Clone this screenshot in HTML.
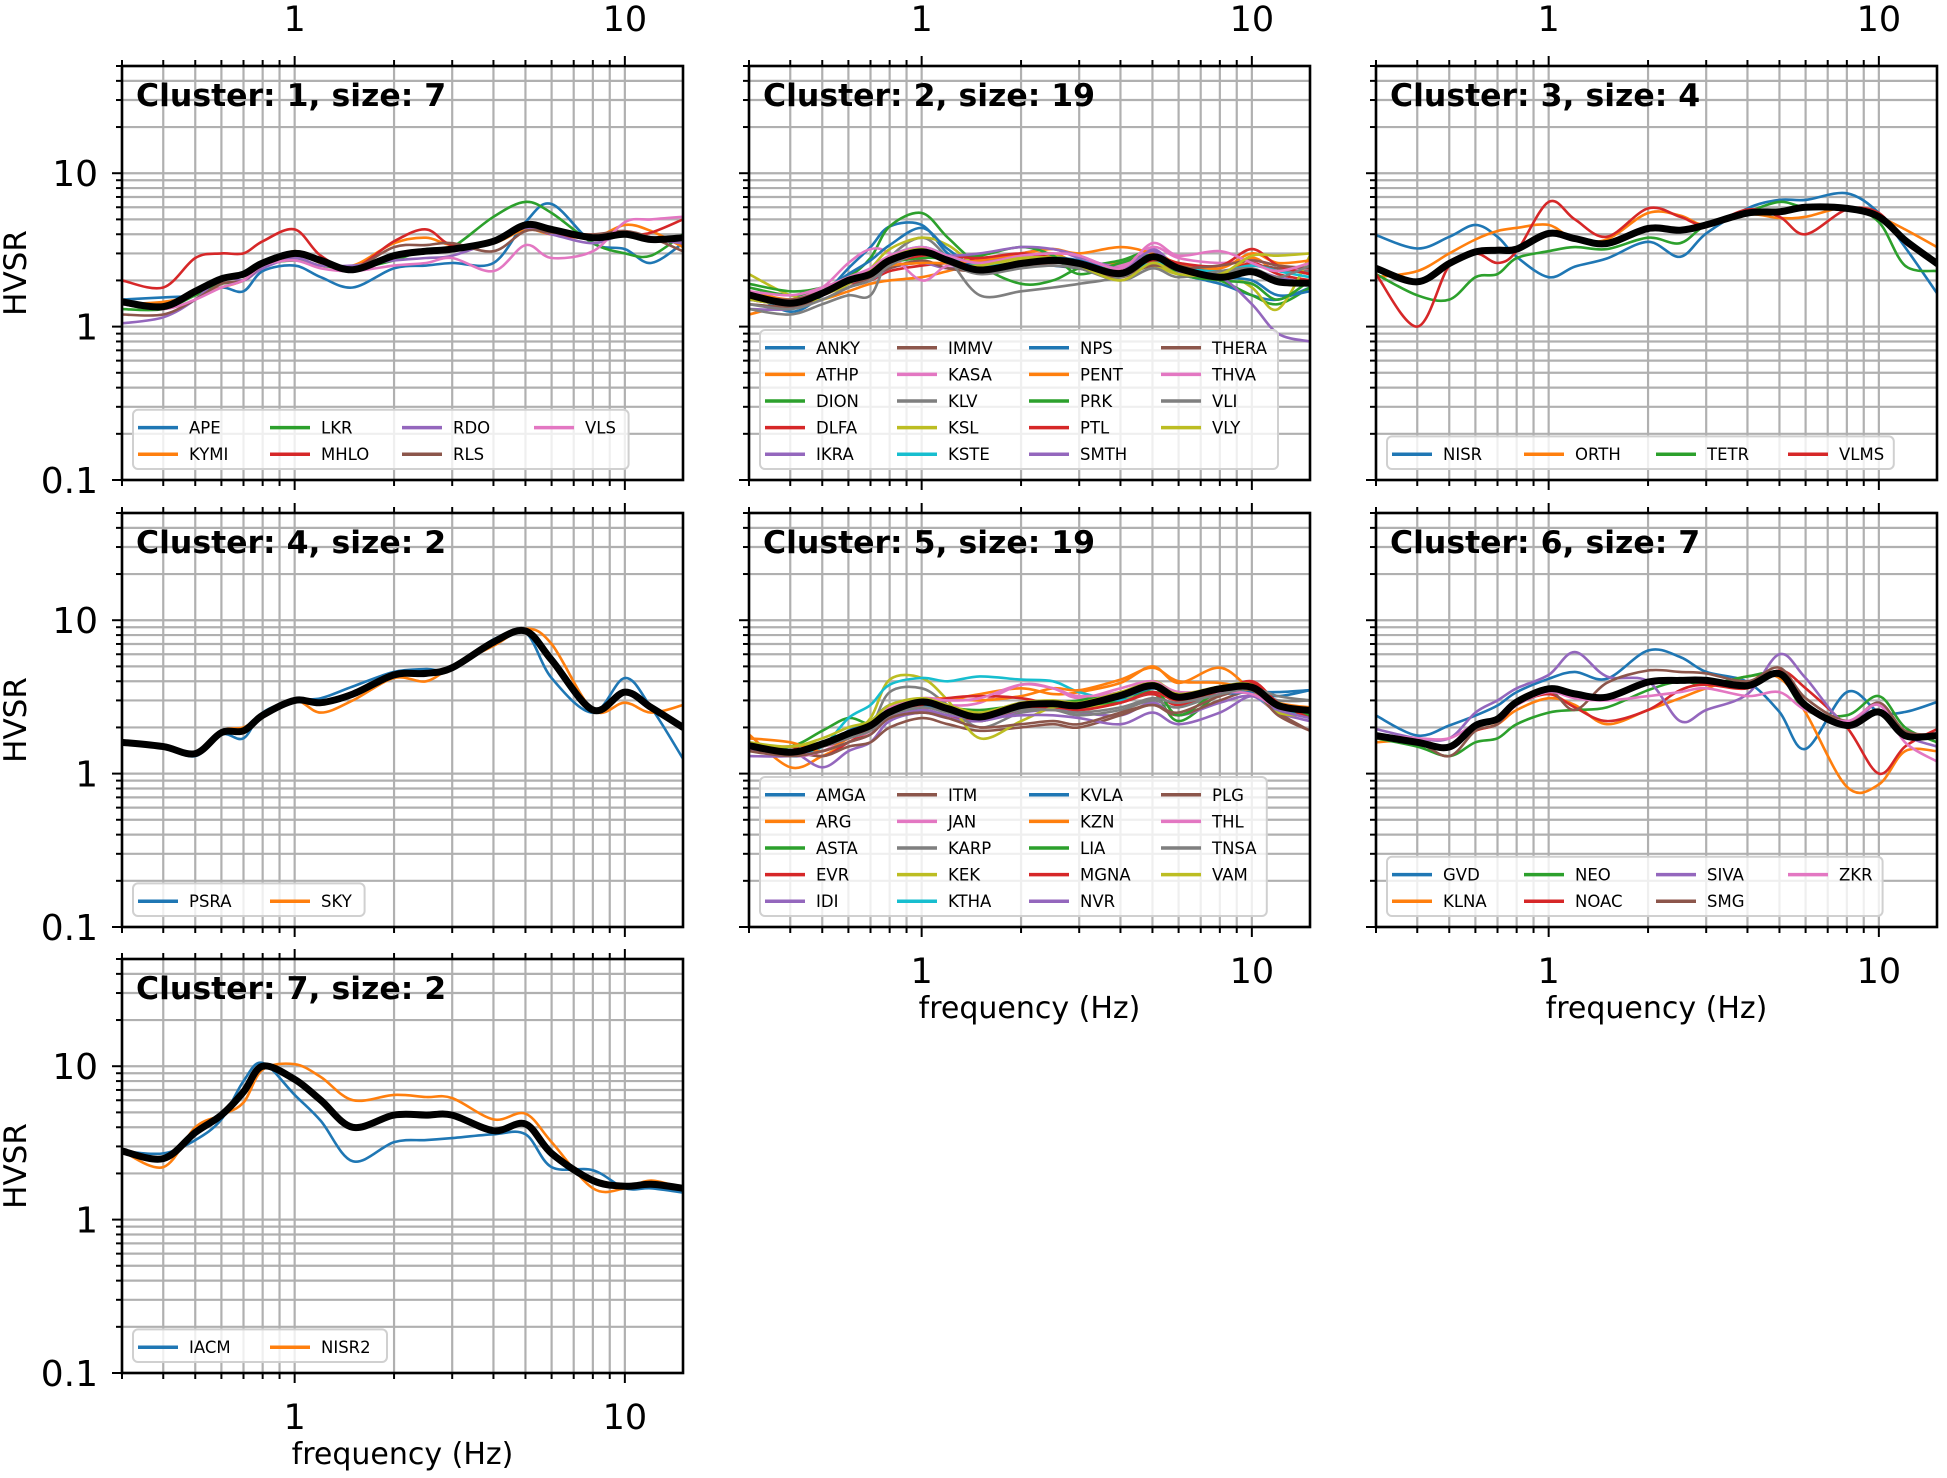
<!DOCTYPE html>
<html><head><meta charset="utf-8">
<style>
html,body{margin:0;padding:0;background:#fff;}
svg{display:block;font-family:"DejaVu Sans","Liberation Sans",sans-serif;}
</style></head>
<body>
<svg id="fig" width="1947" height="1478" viewBox="0 0 1947 1478" xmlns="http://www.w3.org/2000/svg"></svg>
<script>
const freqs = [0.3,0.4,0.5,0.6,0.7,0.8,1,1.2,1.5,2,2.5,3,4,5,6,8,10,12,15];
const yTickLabels = ["0.1","1","10"];
const xTickLabels = ["1","10"];
const colors = ["#1f77b4","#ff7f0e","#2ca02c","#d62728","#9467bd","#8c564b","#e377c2","#7f7f7f","#bcbd22","#17becf"];

const c1Names = ["APE","KYMI","LKR","MHLO","RDO","RLS","VLS"];
const c1Series = [
[1.5,1.55,1.6,1.8,1.7,2.3,2.5,2.1,1.8,2.4,2.5,2.6,2.6,4.8,6.3,3.5,3.2,2.6,3.5],
[1.4,1.45,1.6,1.8,2.0,2.5,3.1,2.6,2.5,3.5,3.8,3.4,3.5,4.3,4.0,3.8,4.6,4.2,3.3],
[1.3,1.3,1.6,1.9,2.0,2.5,2.7,2.5,2.4,2.7,3.2,3.3,5.2,6.5,5.5,3.5,3.0,2.9,4.0],
[2.0,1.8,2.8,3.0,3.0,3.6,4.3,2.9,2.4,3.6,4.3,3.4,3.6,4.5,4.0,3.8,3.9,4.1,5.0],
[1.05,1.15,1.5,2.1,2.0,2.4,2.8,2.5,2.5,2.7,2.8,2.9,3.6,4.4,4.0,3.5,4.0,3.7,3.5],
[1.2,1.2,1.5,1.9,2.0,2.5,2.9,2.7,2.4,3.3,3.4,3.5,3.1,4.2,4.1,4.0,4.2,3.8,3.1],
[1.4,1.3,1.5,1.8,2.0,2.5,2.7,2.4,2.3,2.5,2.6,2.8,2.3,3.4,2.8,3.1,4.8,5.0,5.2]];
const c1Mean = [1.45,1.35,1.7,2.05,2.2,2.6,3.0,2.7,2.35,2.9,3.1,3.2,3.6,4.6,4.3,3.8,4.0,3.7,3.8];

const c2Names = ["ANKY","ATHP","DION","DLFA","IKRA","IMMV","KASA","KLV","KSL","KSTE","NPS","PENT","PRK","PTL","SMTH","THERA","THVA","VLI","VLY"];
const c2Series = [
[1.7,1.25,1.6,2.4,3.3,4.5,4.6,3.0,2.3,2.7,2.5,2.4,2.2,2.5,2.2,1.9,1.6,1.5,1.8],
[1.2,1.4,1.5,1.7,1.9,2.0,2.1,2.3,2.6,2.9,3.0,2.6,2.6,3.1,2.5,2.1,2.8,2.3,2.6],
[1.8,1.6,1.7,2.1,2.8,4.5,5.5,3.8,2.5,1.9,2.0,2.4,2.7,3.1,2.4,2.0,1.6,1.4,1.8],
[1.5,1.4,1.6,1.9,2.0,2.3,2.5,2.6,2.8,2.9,2.7,2.4,2.1,2.7,2.3,2.2,2.6,2.2,2.0],
[1.3,1.3,1.5,1.8,2.0,2.4,2.6,2.4,2.6,3.0,3.2,2.8,2.5,3.2,2.4,2.0,2.3,2.1,1.9],
[1.4,1.35,1.5,1.8,2.1,2.4,2.7,2.4,2.3,2.5,2.5,2.4,2.1,2.6,2.5,2.3,2.5,2.4,2.2],
[1.6,1.5,1.8,2.6,3.2,3.0,2.0,2.5,2.4,2.9,2.8,2.7,2.5,3.3,2.8,2.6,2.7,2.5,2.3],
[1.3,1.2,1.4,1.6,1.6,2.8,3.8,2.8,1.6,1.7,1.8,1.9,2.1,2.5,2.3,2.2,2.5,2.3,2.3],
[2.2,1.6,1.5,1.9,2.4,3.2,3.8,3.4,2.5,2.7,2.9,2.6,2.3,2.5,2.2,2.3,1.8,1.3,2.9],
[1.5,1.4,1.6,2.0,2.3,2.9,3.3,2.9,2.5,2.6,2.7,2.5,2.2,2.6,2.4,2.3,2.5,2.3,2.1],
[1.6,1.45,1.7,2.2,2.7,3.4,4.4,3.2,2.4,2.6,2.8,2.7,2.3,2.8,2.3,2.1,2.0,1.6,1.7],
[1.7,1.5,1.7,2.0,2.2,2.5,2.6,2.6,2.7,3.0,3.2,3.0,3.3,3.0,2.6,2.4,3.0,2.6,2.7],
[1.9,1.7,1.8,2.1,2.3,2.6,2.8,2.8,2.9,3.3,2.9,2.2,2.6,2.9,2.2,2.0,1.9,1.5,2.0],
[1.5,1.45,1.6,1.9,2.2,2.6,2.9,2.9,2.8,3.0,2.8,2.6,2.3,2.9,2.6,2.5,3.2,2.5,2.2],
[1.5,1.4,1.6,1.9,2.2,2.7,3.0,2.9,3.0,3.3,3.2,2.9,2.4,3.1,2.3,2.1,1.4,0.9,0.8],
[1.6,1.5,1.7,2.0,2.3,2.7,3.1,2.8,2.3,2.5,2.6,2.6,2.2,2.5,2.4,2.5,2.7,2.5,2.4],
[1.7,1.6,1.8,2.1,2.4,2.9,3.3,2.9,2.6,2.9,3.0,2.9,2.4,3.5,2.9,3.1,2.6,2.3,2.6],
[1.4,1.3,1.5,1.8,2.0,2.5,3.0,2.6,2.2,2.4,2.5,2.4,2.0,2.4,2.1,2.3,2.4,2.1,2.5],
[1.5,1.4,1.6,1.9,2.3,2.8,3.2,2.6,2.5,2.8,2.8,2.5,2.0,2.6,2.2,2.2,2.9,2.9,3.0]];
const c2Mean = [1.61,1.42,1.65,2.0,2.2,2.7,3.07,2.7,2.34,2.58,2.7,2.58,2.22,2.85,2.4,2.1,2.28,1.96,1.92];

const c3Names = ["NISR","ORTH","TETR","VLMS"];
const c3Series = [
[3.95,3.23,3.85,4.6,3.85,2.85,2.1,2.46,2.78,3.57,2.85,4.05,5.9,6.7,6.7,7.4,5.5,3.3,1.65],
[2.1,2.3,3.0,3.7,4.2,4.4,4.6,3.7,3.7,5.5,5.3,4.6,5.4,5.1,5.2,6.0,5.2,4.3,3.3],
[2.2,1.6,1.5,2.1,2.2,2.8,3.1,3.3,3.2,3.8,3.5,4.6,5.6,6.5,6.0,6.0,4.8,2.5,2.3],
[2.2,1.0,2.5,3.0,2.6,3.1,6.5,5.0,3.85,5.9,5.2,4.6,5.8,5.2,4.0,5.8,5.5,3.5,2.6]];
const c3Mean = [2.4,1.96,2.58,3.07,3.15,3.2,4.05,3.75,3.48,4.36,4.25,4.6,5.5,5.6,6.0,5.9,5.2,3.66,2.58];

const c4Names = ["PSRA","SKY"];
const c4Series = [
[1.6,1.5,1.3,1.8,1.7,2.5,3.0,3.1,3.7,4.6,4.8,4.8,7.5,8.3,4.2,2.5,4.2,2.7,1.25],
[1.6,1.5,1.35,1.9,2.0,2.4,3.0,2.5,3.0,4.2,4.0,5.0,6.8,8.8,7.0,2.6,2.9,2.5,2.8]];
const c4Mean = [1.6,1.5,1.35,1.85,1.9,2.4,3.0,2.9,3.3,4.4,4.5,4.9,7.2,8.5,5.5,2.6,3.4,2.7,2.0];

const c5Names = ["AMGA","ARG","ASTA","EVR","IDI","ITM","JAN","KARP","KEK","KTHA","KVLA","KZN","LIA","MGNA","NVR","PLG","THL","TNSA","VAM"];
const c5Series = [
[1.6,1.4,1.5,1.9,2.2,2.8,3.0,2.7,2.2,2.7,2.9,2.7,3.3,3.6,3.3,3.5,3.4,3.2,3.5],
[1.8,1.1,1.3,1.6,1.9,2.4,2.6,3.0,3.3,3.6,3.3,3.4,3.9,5.0,3.9,4.9,3.5,2.9,2.6],
[1.5,1.5,1.9,2.3,2.1,2.3,2.7,2.6,2.3,2.6,2.7,2.6,3.0,3.4,2.2,3.3,3.6,2.7,2.4],
[1.4,1.5,1.3,1.6,1.9,2.3,2.5,2.4,2.2,2.6,2.7,2.6,2.9,3.3,2.8,3.4,3.9,2.8,2.6],
[1.4,1.4,1.1,1.4,1.6,2.2,2.5,2.3,2.2,2.5,2.6,2.5,2.4,2.9,2.4,2.9,3.2,2.5,2.2],
[1.5,1.4,1.3,1.5,1.6,2.0,2.3,2.1,1.9,2.0,2.1,2.0,2.4,2.8,2.4,3.0,3.4,2.5,1.9],
[1.6,1.3,1.4,1.7,1.9,2.7,3.1,2.8,2.9,3.8,3.6,3.1,3.6,4.0,3.4,3.5,3.5,2.8,2.6],
[1.5,1.4,1.5,1.7,2.0,3.4,3.6,2.8,2.0,2.5,2.6,2.4,2.6,3.0,2.7,3.3,3.5,3.0,3.0],
[1.5,1.5,1.6,1.8,2.3,4.1,4.2,3.0,1.7,2.2,2.7,2.7,2.9,4.0,3.3,3.6,3.4,2.5,2.4],
[1.6,1.3,1.5,2.3,2.8,3.8,4.2,4.0,4.3,4.1,4.0,3.4,3.0,3.4,3.1,3.5,3.3,2.6,2.5],
[1.5,1.4,1.5,1.8,2.1,2.6,2.8,2.6,2.4,2.8,2.8,2.8,3.1,3.6,3.3,3.3,3.4,3.4,3.5],
[1.7,1.6,1.4,1.7,2.0,2.6,3.0,3.1,3.0,3.2,3.6,3.5,4.1,4.9,4.0,3.9,3.5,2.9,2.7],
[1.5,1.4,1.6,1.8,2.1,2.5,2.9,2.7,2.6,2.8,2.9,3.0,3.4,3.8,2.4,3.5,3.5,2.9,2.4],
[1.5,1.4,1.5,1.7,2.0,2.5,2.8,3.1,3.2,3.1,2.8,2.6,2.9,3.4,3.0,3.4,4.0,2.9,2.3],
[1.3,1.3,1.4,1.6,1.8,2.3,2.6,2.4,2.3,2.4,2.4,2.3,2.1,2.5,2.1,2.5,3.2,2.6,2.3],
[1.4,1.3,1.4,1.6,1.8,2.3,2.5,2.3,2.0,2.1,2.2,2.1,2.5,2.8,2.5,3.2,3.5,2.4,1.9],
[1.5,1.4,1.5,1.8,2.0,2.6,3.1,3.0,3.1,3.8,3.6,3.2,3.4,4.0,3.3,3.4,3.3,2.7,2.6],
[1.5,1.4,1.5,1.7,1.9,2.4,2.7,2.5,2.3,2.6,2.6,2.5,2.7,3.1,2.9,3.3,3.6,3.2,3.0],
[1.6,1.5,1.7,2.0,2.2,2.8,3.1,2.8,2.5,2.9,3.0,2.9,3.4,3.9,3.3,3.7,3.8,2.7,2.6]];
const c5Mean = [1.52,1.38,1.56,1.82,2.06,2.52,2.93,2.65,2.34,2.78,2.85,2.78,3.23,3.75,3.15,3.57,3.66,2.78,2.58];

const c6Names = ["GVD","KLNA","NEO","NOAC","SIVA","SMG","ZKR"];
const c6Series = [
[2.39,1.77,2.06,2.39,2.78,3.4,4.15,4.6,4.15,6.35,5.76,4.6,3.95,2.52,1.45,3.4,2.52,2.52,2.93],
[1.6,1.65,1.5,1.9,2.1,2.6,3.1,2.8,2.1,2.6,3.1,3.6,4.3,4.2,2.5,0.82,0.85,1.4,1.4],
[1.7,1.5,1.3,1.6,1.7,2.1,2.5,2.6,2.7,3.5,4.0,3.8,4.3,4.4,2.6,2.4,3.2,2.0,1.6],
[1.75,1.6,1.5,1.9,2.1,2.8,3.3,2.7,2.2,2.6,3.5,3.8,3.6,4.7,3.6,2.0,1.0,1.5,1.95],
[1.95,1.7,1.7,2.5,3.0,3.6,4.4,6.2,4.3,4.0,2.2,2.6,3.3,6.0,4.2,2.1,2.9,1.8,1.5],
[1.7,1.6,1.3,1.9,2.1,2.9,3.5,2.6,3.9,4.7,4.6,4.5,4.0,4.9,3.1,2.2,2.9,1.9,1.8],
[1.8,1.7,1.7,2.1,2.2,2.8,3.4,3.1,3.0,3.2,3.4,3.6,3.2,3.4,2.6,2.2,2.8,1.6,1.2]];
const c6Mean = [1.77,1.6,1.49,2.06,2.27,2.93,3.57,3.31,3.15,3.95,4.05,4.05,3.75,4.48,2.78,2.06,2.52,1.77,1.77];

const c7Names = ["IACM","NISR2"];
const c7Series = [
[2.8,2.7,3.3,4.5,8.0,10.5,6.5,4.4,2.4,3.2,3.3,3.4,3.6,3.6,2.2,2.1,1.6,1.6,1.5],
[2.8,2.2,4.0,4.8,5.8,9.5,10.3,8.5,6.0,6.5,6.3,6.2,4.5,4.9,3.2,1.6,1.6,1.8,1.6]];
const c7Mean = [2.8,2.5,3.7,4.8,6.8,10.0,8.2,6.0,4.0,4.8,4.8,4.8,3.8,4.2,2.7,1.8,1.65,1.7,1.6];

const clusters = [
 {id:1,names:c1Names,series:c1Series,mean:c1Mean},
 {id:2,names:c2Names,series:c2Series,mean:c2Mean},
 {id:3,names:c3Names,series:c3Series,mean:c3Mean},
 {id:4,names:c4Names,series:c4Series,mean:c4Mean},
 {id:5,names:c5Names,series:c5Series,mean:c5Mean},
 {id:6,names:c6Names,series:c6Series,mean:c6Mean},
 {id:7,names:c7Names,series:c7Series,mean:c7Mean}];

const NS="http://www.w3.org/2000/svg";
const svg=document.getElementById('fig');
function mk(tag,attrs,parent){const e=document.createElementNS(NS,tag);for(const k in attrs)e.setAttribute(k,attrs[k]);(parent||svg).appendChild(e);return e;}

const W=561,H=414, lefts=[122,749,1376], tops=[66,513,959];
const XMIN=0.3,XMAX=15,YMIN=0.1,YMAX=50;
const L=Math.log10;

function drawPanel(c,idx){
  const col=idx%3,row=Math.floor(idx/3);
  const x0=lefts[col],y0=tops[row];
  const xs=f=>x0+(L(f)-L(XMIN))/(L(XMAX)-L(XMIN))*W;
  const ys=v=>y0+(L(YMAX)-L(v))/(L(YMAX)-L(YMIN))*H;
  const g=mk('g',{});
  
  
  mk('rect',{x:x0,y:y0,width:W,height:H,fill:'#fff'},g);
  const clipId='clip'+idx;
  const cp=mk('clipPath',{id:clipId},g); mk('rect',{x:x0,y:y0,width:W,height:H},cp);
  const grid=mk('g',{stroke:'#b0b0b0','stroke-width':2.2},g);
  
  
  const xt=[],yt=[];
  for(const d of [0.1,1,10]) for(let m=1;m<10;m++){const f=d*m; if(f>=XMIN-1e-9&&f<=XMAX+1e-9) xt.push({f,maj:m===1});}
  for(const d of [0.1,1,10]) for(let m=1;m<10;m++){const v=d*m; if(v>=YMIN-1e-9&&v<=YMAX+1e-9) yt.push({v,maj:m===1});}
  xt.forEach(t=>{const x=xs(t.f);mk('line',{x1:x,x2:x,y1:y0,y2:y0+H},grid);});
  yt.forEach(t=>{const y=ys(t.v);mk('line',{x1:x0,x2:x0+W,y1:y,y2:y},grid);});
  const lines=mk('g',{'clip-path':'url(#'+clipId+')',fill:'none'},g);
  c.series.forEach((s,i)=>{
    const p=mk('path',{d:smooth(s.map((v,j)=>[xs(freqs[j]),ys(v)])),stroke:colors[i%10],'stroke-width':2.6,'stroke-linejoin':'round'},lines);
    
    
  });
  const mp=mk('path',{d:smooth(c.mean.map((v,j)=>[xs(freqs[j]),ys(v)])),stroke:'#000','stroke-width':7,'stroke-linejoin':'round','stroke-linecap':'round'},lines);
  
  
  const tk=mk('g',{stroke:'#000','stroke-width':2},g);
  xt.forEach(t=>{const x=xs(t.f),l=t.maj?10:6;mk('line',{x1:x,x2:x,y1:y0,y2:y0-l},tk);mk('line',{x1:x,x2:x,y1:y0+H,y2:y0+H+l},tk);});
  yt.forEach(t=>{const y=ys(t.v),l=t.maj?10:6;mk('line',{x1:x0,x2:x0-l,y1:y,y2:y},tk);});
  if(col===0){
    [0.1,1,10].forEach((v,i)=>{const t=mk('text',{x:x0-24,y:ys(v)+13,'text-anchor':'end','font-size':36,fill:'#000'},g);t.textContent=yTickLabels[i];
      });
    const yl=mk('text',{x:0,y:0,transform:`translate(${x0-96},${y0+H/2}) rotate(-90)`,'text-anchor':'middle','font-size':31,fill:'#000'},g);
    yl.textContent='HVSR';
    
    
  }
  if(row===0){[1,10].forEach((f,i)=>{const t=mk('text',{x:xs(f),y:y0-35,'text-anchor':'middle','font-size':35,fill:'#000'},g);t.textContent=xTickLabels[i];
    });}
  const bottomLabeled=(row===1&&col>0)||row===2;
  if(bottomLabeled){
    [1,10].forEach((f,i)=>{const t=mk('text',{x:xs(f),y:y0+H+56,'text-anchor':'middle','font-size':35,fill:'#000'},g);t.textContent=xTickLabels[i];
      });
    const xl=mk('text',{x:x0+W/2,y:y0+H+91,'text-anchor':'middle','font-size':30,fill:'#000'},g);
    xl.textContent='frequency (Hz)';
    
    
  }
  const tt=mk('text',{x:x0+14,y:y0+40,'font-size':31.5,'font-weight':'bold',fill:'#000'},g);
  tt.textContent='Cluster: '+c.id+', size: '+c.names.length;
  
  
  const n=c.names.length, nrow=Math.ceil(n/4), ncol=Math.ceil(n/nrow);
  const rowH=26.6, colW=132;
  const bx=x0+11, bb=y0+H-11;
  const by=bb-(nrow*rowH+6);
  let maxLast=0; for(let i=(ncol-1)*nrow;i<n;i++) maxLast=Math.max(maxLast,c.names[i].length);
  const bw=(ncol-1)*colW+56+maxLast*11.2+10;
  const lg=mk('g',{},g);
  
  
  mk('rect',{x:bx,y:by,width:bw,height:bb-by,rx:5,fill:'#fff','fill-opacity':0.8,stroke:'#d0d0d0','stroke-width':2},lg);
  c.names.forEach((nm,i)=>{
    const cc=Math.floor(i/nrow), rr=i%nrow;
    const lx=bx+cc*colW, ly=by+3+rowH*(rr+0.5)+1.5;
    const e=mk('g',{},lg);
    
    
    mk('line',{x1:lx+5,x2:lx+45,y1:ly,y2:ly,stroke:colors[i%10],'stroke-width':3.5},e);
    const t=mk('text',{x:lx+56,y:ly+6,'font-size':16.5,fill:'#000'},e); t.textContent=nm;
  });
  mk('rect',{x:x0,y:y0,width:W,height:H,fill:'none',stroke:'#000','stroke-width':2.6},g);
}
function smooth(p){
  let d='M'+p[0][0].toFixed(1)+','+p[0][1].toFixed(1);
  for(let i=0;i<p.length-1;i++){
    const a=p[Math.max(0,i-1)],b=p[i],c=p[i+1],e=p[Math.min(p.length-1,i+2)];
    const c1=[b[0]+(c[0]-a[0])/6,b[1]+(c[1]-a[1])/6], c2=[c[0]-(e[0]-b[0])/6,c[1]-(e[1]-b[1])/6];
    d+=`C${c1[0].toFixed(1)},${c1[1].toFixed(1)} ${c2[0].toFixed(1)},${c2[1].toFixed(1)} ${c[0].toFixed(1)},${c[1].toFixed(1)}`;
  }
  return d;
}
clusters.forEach((c,i)=>drawPanel(c,i));
</script>
</body></html>
